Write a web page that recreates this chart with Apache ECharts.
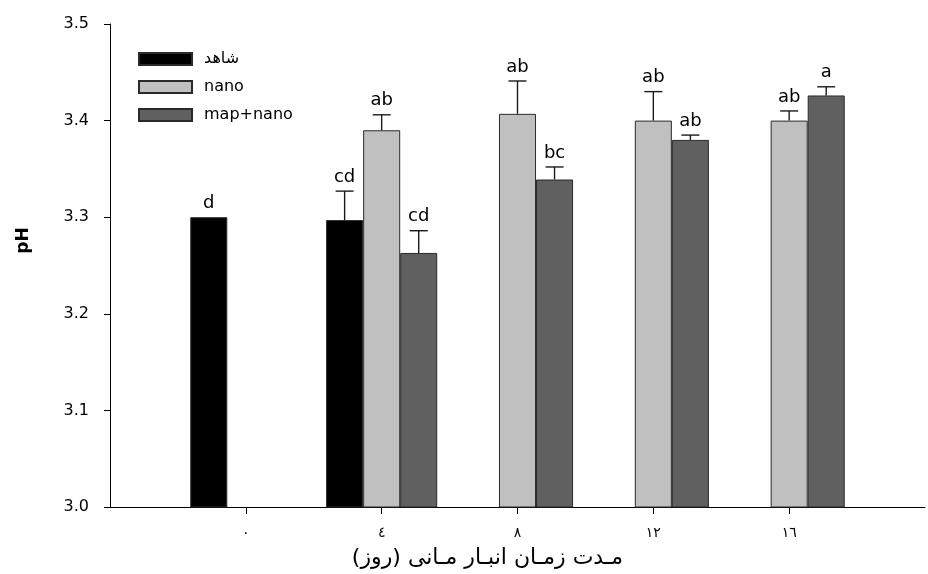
<!DOCTYPE html>
<html>
<head>
<meta charset="utf-8">
<script src="https://cdn.jsdelivr.net/npm/echarts@6/dist/echarts.min.js"></script>
<style>
html,body{margin:0;padding:0;background:#fff;}
#c{width:928px;height:574px;}
</style>
</head>
<body>
<div id="c"></div>
<script>
// categories (days) incl. blank padding at both ends of the axis
var days = ['-4', '0', '4', '8', '12', '16', '20'];
var tickLabels = ['', '٠', '٤', '٨', '١٢', '١٦', ''];
var seriesNames = ['شاهد', 'nano', 'map+nano'];

var controlVals = [null, 3.300, 3.297, null, null, null, null];
var nanoVals    = [null, null, 3.390, 3.407, 3.400, 3.400, null];
var mapVals     = [null, null, 3.263, 3.339, 3.380, 3.426, null];

var controlErr = [0, 0, 0.030, 0, 0, 0, 0];
var nanoErr    = [0, 0, 0.016, 0.034, 0.030, 0.010, 0];
var mapErr     = [0, 0, 0.023, 0.013, 0.005, 0.009, 0];

var controlLetters = ['', 'd', 'cd', '', '', '', ''];
var nanoLetters    = ['', '', 'ab', 'ab', 'ab', 'ab', ''];
var mapLetters     = ['', '', 'cd', 'bc', 'ab', 'a', ''];

var BAR_FRAC = 0.2727;
var colors = ['#000000', '#c0c0c0', '#606060'];

function errData(vals, errs, letters, slot) {
  var out = [];
  for (var i = 0; i < vals.length; i++) {
    if (vals[i] == null) continue;
    out.push([i, vals[i], errs[i], letters[i], slot]);
  }
  return out;
}
var errItems = []
  .concat(errData(controlVals, controlErr, controlLetters, -1))
  .concat(errData(nanoVals, nanoErr, nanoLetters, 0))
  .concat(errData(mapVals, mapErr, mapLetters, 1));

var chart = echarts.init(document.getElementById('c'), null, {renderer: 'canvas'});
var FONT = 'DejaVu Sans';

function barSeries(name, data, color) {
  return {
    name: name, type: 'bar', data: data,
    barWidth: '27.27%', barGap: '0%',
    itemStyle: {color: color, borderColor: '#2a2a2a', borderWidth: 1},
    emphasis: {disabled: true},
    animation: false
  };
}

chart.setOption({
  animation: false,
  backgroundColor: '#ffffff',
  grid: {left: 110, right: -11, top: 24, bottom: 59, containLabel: false},
  legend: {
    orient: 'vertical', left: 138, top: 51, padding: 0,
    itemWidth: 53, itemHeight: 12, itemGap: 12,
    icon: 'rect',
    data: seriesNames,
    textStyle: {fontFamily: FONT, fontSize: 16, color: '#000', padding: [0, 0, 0, 7]}
  },
  xAxis: {
    type: 'category', data: days, boundaryGap: false,
    name: 'مـدت زمـان انبـار مـانی (روز)',
    nameLocation: 'middle', nameGap: 40,
    nameTextStyle: {fontFamily: FONT, fontSize: 22, color: '#000', padding: [0, 60, 0, 0]},
    axisLine: {lineStyle: {color: '#000', width: 1}},
    axisTick: {show: true, length: 7, alignWithLabel: true, lineStyle: {color: '#000'},
      interval: function (i) { return i > 0 && i < days.length - 1; }},
    axisLabel: {
      margin: 19, fontFamily: FONT, fontSize: 14, color: '#000',
      interval: 0,
      formatter: function (v, i) { return tickLabels[i]; }
    },
    splitLine: {show: false}
  },
  yAxis: {
    type: 'value', min: 3.0, max: 3.5, interval: 0.1,
    name: 'pH', nameLocation: 'middle', nameGap: 78,
    nameTextStyle: {fontFamily: FONT, fontSize: 17, fontWeight: 'bold', color: '#000', padding: [0, 0, 0, 50]},
    axisLine: {show: true, lineStyle: {color: '#000', width: 1}},
    axisTick: {show: true, inside: false, length: 6, lineStyle: {color: '#000'}},
    axisLabel: {
      margin: 21, fontFamily: FONT, fontSize: 16, color: '#000',
      formatter: function (v) { return v.toFixed(1); }
    },
    splitLine: {show: false}
  },
  series: [
    barSeries(seriesNames[0], controlVals, colors[0]),
    barSeries(seriesNames[1], nanoVals, colors[1]),
    barSeries(seriesNames[2], mapVals, colors[2]),
    {
      type: 'custom', data: errItems, z: 5, silent: true, animation: false,
      renderItem: function (params, api) {
        var ci = api.value(0), v = api.value(1), e = api.value(2), slot = api.value(4);
        var letter = errItems[params.dataIndex][3];
        var base = api.coord([ci, v]);
        var band = api.size([1, 0])[0];
        var bw = band * BAR_FRAC;
        var x = base[0] + slot * bw;
        var top = api.coord([ci, v + e]);
        var children = [];
        if (e > 0) {
          children.push({type: 'line', shape: {x1: x, y1: base[1], x2: x, y2: top[1]},
            style: {stroke: '#1a1a1a', lineWidth: 1.4}});
          children.push({type: 'line', shape: {x1: x - 9, y1: top[1], x2: x + 9, y2: top[1]},
            style: {stroke: '#1a1a1a', lineWidth: 1.4}});
        }
        if (letter) {
          children.push({type: 'text', x: x, y: top[1] - 5,
            style: {text: letter, textAlign: 'center', textVerticalAlign: 'bottom',
              font: '18px "DejaVu Sans"', fill: '#000'}});
        }
        return {type: 'group', children: children};
      }
    }
  ]
});
</script>
</body>
</html>
